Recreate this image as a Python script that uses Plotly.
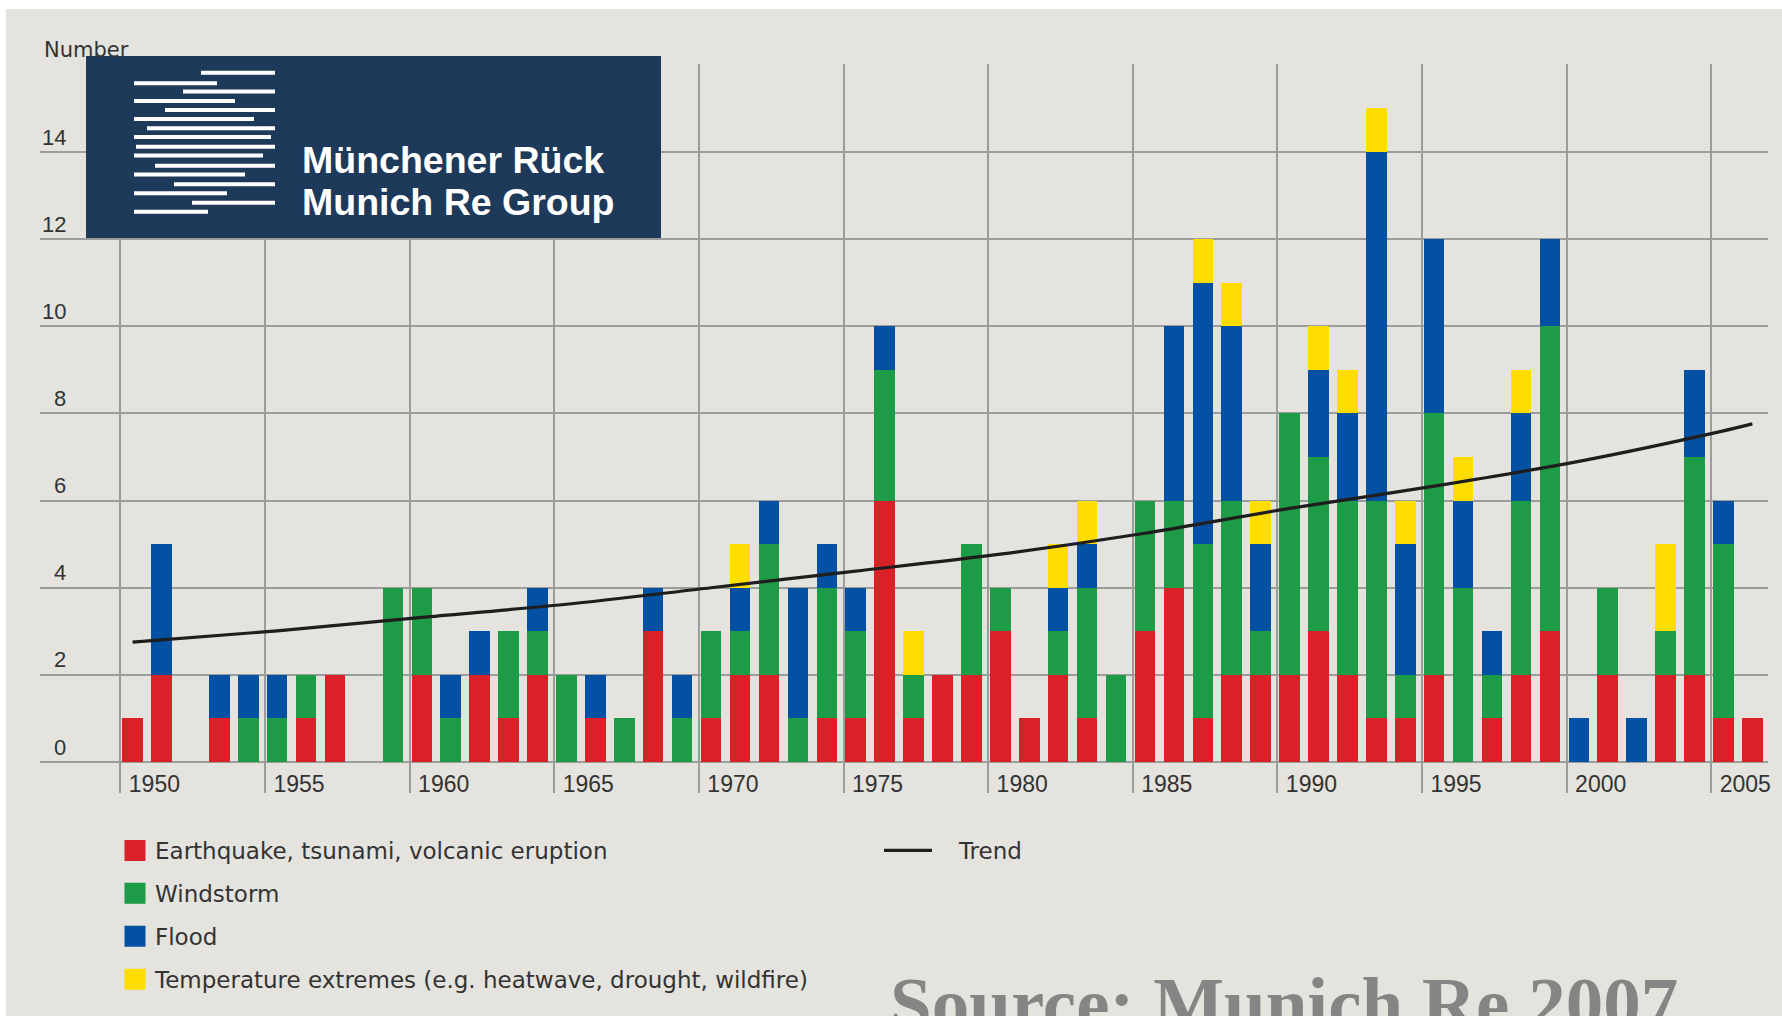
import plotly.graph_objects as go

# ---------------- data ----------------
years = list(range(1950, 2007))
earthquake = [1, 2, 0, 1, 0, 0, 1, 2, 0, 0,
              2, 0, 2, 1, 2, 0, 1, 0, 3, 0,
              1, 2, 2, 0, 1, 1, 6, 1, 2, 2,
              3, 1, 2, 1, 0, 3, 4, 1, 2, 2,
              2, 3, 2, 1, 1, 2, 0, 1, 2, 3,
              0, 2, 0, 2, 2, 1, 1]
windstorm = [0, 0, 0, 0, 1, 1, 1, 0, 0, 4,
             2, 1, 0, 2, 1, 2, 0, 1, 0, 1,
             2, 1, 3, 1, 3, 2, 3, 1, 0, 3,
             1, 0, 1, 3, 2, 3, 2, 4, 4, 1,
             6, 4, 4, 5, 1, 6, 4, 1, 4, 7,
             0, 2, 0, 1, 5, 4, 0]
flood = [0, 3, 0, 1, 1, 1, 0, 0, 0, 0,
         0, 1, 1, 0, 1, 0, 1, 0, 1, 1,
         0, 1, 1, 3, 1, 1, 1, 0, 0, 0,
         0, 0, 1, 1, 0, 0, 4, 6, 4, 2,
         0, 2, 2, 8, 3, 4, 2, 1, 2, 2,
         1, 0, 1, 0, 2, 1, 0]
temperature = [0, 0, 0, 0, 0, 0, 0, 0, 0, 0,
               0, 0, 0, 0, 0, 0, 0, 0, 0, 0,
               0, 1, 0, 0, 0, 0, 0, 1, 0, 0,
               0, 0, 1, 1, 0, 0, 0, 1, 1, 1,
               0, 1, 1, 1, 1, 0, 1, 0, 1, 0,
               0, 0, 0, 2, 0, 0, 0]

trend_years = [1950, 1955, 1960, 1965, 1970, 1975, 1980, 1985, 1990, 1995, 2000, 2005, 2006]
trend_values = [2.75, 3.01, 3.32, 3.62, 4.0, 4.38, 4.77, 5.25, 5.82, 6.33, 6.9, 7.6, 7.76]

series_names = ["Earthquake, tsunami, volcanic eruption", "Windstorm", "Flood",
                "Temperature extremes (e.g. heatwave, drought, wildfire)"]
series_values = [earthquake, windstorm, flood, temperature]
series_colors = ["#DA2128", "#1E9B46", "#0450A2", "#FFDD00"]

x_tick_years = [1950, 1955, 1960, 1965, 1970, 1975, 1980, 1985, 1990, 1995, 2000, 2005]
y_tick_values = [0, 2, 4, 6, 8, 10, 12, 14]
y_axis_label = "Number"
source_text = "Source: Munich Re 2007"

# ---------------- layout geometry ----------------
W, H = 1782, 1016
ML, MR, MT, MB = 40, 14, 64, 254
PW = W - ML - MR
PH = H - MT - MB
BG = "#E4E3DD"
GRID = "#9C9C9C"
TXT = "#333333"
NAVY = "#1E3A5B"


def px_x(px):
    return (px - ML) / PW


def px_y(py):
    return (H - MB - py) / PH


fig = go.Figure()

for name, vals, col in zip(series_names, series_values, series_colors):
    fig.add_trace(go.Bar(x=years, y=vals, name=name, marker=dict(color=col, line=dict(width=0)),
                         legendgroup=name, showlegend=False))
    fig.add_trace(go.Scatter(x=[None], y=[None], mode="markers", name=name, legendgroup=name,
                             marker=dict(symbol="square", size=16, color=col, line=dict(color=col, width=5)),
                             legend="legend"))

fig.add_trace(go.Scatter(x=trend_years, y=trend_values, mode="lines", name="\u00a0\u00a0\u00a0Trend",
                         line=dict(color="#1E1E1E", width=3.2, shape="spline", smoothing=0.8),
                         legend="legend2"))

shapes = []
# page background with a thin white border at top/left
shapes.append(dict(type="rect", xref="paper", yref="paper", x0=px_x(6), x1=px_x(W + 5),
                   y0=px_y(H + 5), y1=px_y(9), fillcolor=BG, line=dict(width=0), layer="below"))
# logo box
shapes.append(dict(type="rect", xref="paper", yref="paper", x0=px_x(86), x1=px_x(661),
                   y0=px_y(238), y1=px_y(56), fillcolor=NAVY, line=dict(width=0), layer="above"))
# logo stripes (decoration)
stripe_y = [72.7, 83.3, 91.5, 101, 110, 119, 128.3, 137, 146.7, 155.5, 165.7, 174.5, 184.3, 193.3, 202.7, 211.7]
stripe_x = [(201, 275), (134, 217), (183, 275), (134, 235), (165, 275), (134, 254), (147, 275), (134, 271),
            (136, 275), (134, 263), (155, 275), (134, 245), (174, 275), (134, 227), (192, 275), (134, 208)]
for sy, (sx0, sx1) in zip(stripe_y, stripe_x):
    shapes.append(dict(type="rect", xref="paper", yref="paper", x0=px_x(sx0), x1=px_x(sx1),
                       y0=px_y(sy + 2.0), y1=px_y(sy - 2.0), fillcolor="white", line=dict(width=0),
                       layer="above"))

annotations = []
for v in y_tick_values:
    annotations.append(dict(x=px_x(68), y=v, xref="paper", yref="y", text=str(v), showarrow=False,
                            xanchor="right", yanchor="middle", yshift=15,
                            font=dict(family="Liberation Sans", size=22, color=TXT)))
annotations.append(dict(x=px_x(42), y=16, xref="paper", yref="y", text=y_axis_label, showarrow=False,
                        xanchor="left", yanchor="middle", yshift=15,
                        font=dict(family="DejaVu Sans", size=21, color=TXT)))
annotations.append(dict(x=px_x(300), y=px_y(160), xref="paper", yref="paper", text="<b>Münchener Rück</b>",
                        showarrow=False, xanchor="left", yanchor="middle",
                        font=dict(family="Liberation Sans", size=37.5, color="white")))
annotations.append(dict(x=px_x(300), y=px_y(202), xref="paper", yref="paper", text="<b>Munich Re Group</b>",
                        showarrow=False, xanchor="left", yanchor="middle",
                        font=dict(family="Liberation Sans", size=37.5, color="white")))
annotations.append(dict(x=px_x(888), y=px_y(960), xref="paper", yref="paper", text="<b>" + source_text + "</b>",
                        showarrow=False, xanchor="left", yanchor="top",
                        font=dict(family="Liberation Serif", size=75, color="#858585")))

fig.update_layout(
    width=W, height=H,
    margin=dict(l=ML, r=MR, t=MT, b=MB, pad=0, autoexpand=False),
    paper_bgcolor="white",
    plot_bgcolor="rgba(0,0,0,0)",
    barmode="stack",
    bargap=0.29,
    shapes=shapes,
    annotations=annotations,
    showlegend=True,
    legend=dict(xref="container", yref="container", x=115 / W, y=1 - 829 / H,
                xanchor="left", yanchor="top", bgcolor="rgba(0,0,0,0)", borderwidth=0,
                traceorder="grouped", tracegroupgap=10,
                font=dict(family="DejaVu Sans", size=23, color=TXT)),
    legend2=dict(xref="container", yref="container", x=879 / W, y=1 - 829 / H,
                 xanchor="left", yanchor="top", bgcolor="rgba(0,0,0,0)", borderwidth=0,
                 itemwidth=48,
                 font=dict(family="DejaVu Sans", size=23, color=TXT)),
    xaxis=dict(range=[1946.80, 2006.54], tickmode="array",
               tickvals=[y - 0.42 for y in x_tick_years], ticktext=[str(y) for y in x_tick_years],
               showgrid=True, gridcolor=GRID, gridwidth=2, zeroline=False, showline=False,
               ticks="outside", ticklen=30, tickwidth=2, tickcolor=GRID,
               ticklabelshift=34, ticklabelstandoff=-29,
               tickfont=dict(family="Liberation Sans", size=23, color=TXT), fixedrange=True),
    yaxis=dict(range=[0, 16.02], tickmode="array", tickvals=y_tick_values + [16],
               showticklabels=False, ticks="",
               showgrid=True, gridcolor=GRID, gridwidth=2,
               zeroline=True, zerolinecolor=GRID, zerolinewidth=2, showline=False, fixedrange=True),
)

fig.write_html("out.html", config={"displayModeBar": False},
               post_script="document.body.style.margin='0px';")
